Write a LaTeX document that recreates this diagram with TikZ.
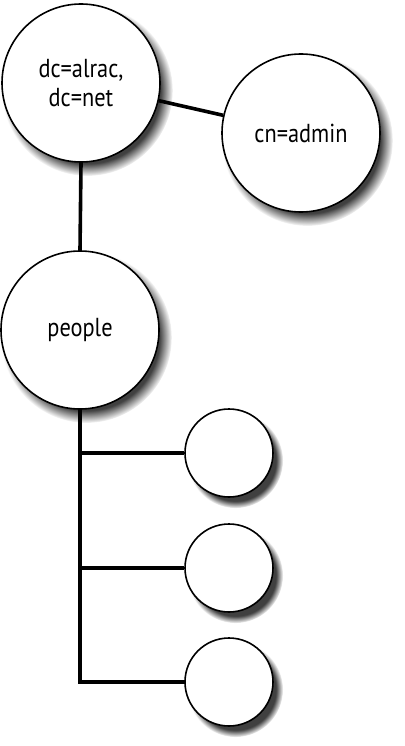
\documentclass[tikz,border=0pt]{standalone}
\usepackage{fontspec}
\setmainfont{PT Sans}
\usetikzlibrary{shadows}
\begin{document}
\begin{tikzpicture}[x=1pt,y=-1pt,
  bubble/.style={circle,draw=black,line width=1.6pt,fill=white,inner sep=0pt,
    circular drop shadow={shadow xshift=6pt,shadow yshift=-7pt,shadow scale=1.08,fill=black!75}},
  big/.style={bubble,minimum size=158pt},
  small/.style={bubble,minimum size=88pt},
  conn/.style={line width=3.6pt},
  lbl/.style={font=\fontsize{26}{29}\selectfont,align=center}]
\useasboundingbox (0,0) rectangle (404,746);
\node[big,lbl] (dc) at (81,83) {\scalebox{0.86}[1]{dc=alrac,}\\\scalebox{0.86}[1]{dc=net}};
\node[big,lbl] (cn) at (301,133) {\scalebox{0.86}[1]{cn=admin}};
\node[big,lbl] (pp) at (80,330) {\scalebox{0.86}[1]{people}};
\node[small] (s1) at (229,453) {};
\node[small] (s2) at (229,568) {};
\node[small] (s3) at (229,682) {};
\coordinate (j1) at (80,453);
\coordinate (j2) at (80,568);
\coordinate (j3) at (80,682);
\draw[conn] (dc) -- (cn);
\draw[conn] (dc.south) -- (pp.north);
\draw[conn,line cap=rect] (pp.south) -- (j3) -- (s3.west);
\draw[conn] (j1) -- (s1.west);
\draw[conn] (j2) -- (s2.west);
\end{tikzpicture}
\end{document}
